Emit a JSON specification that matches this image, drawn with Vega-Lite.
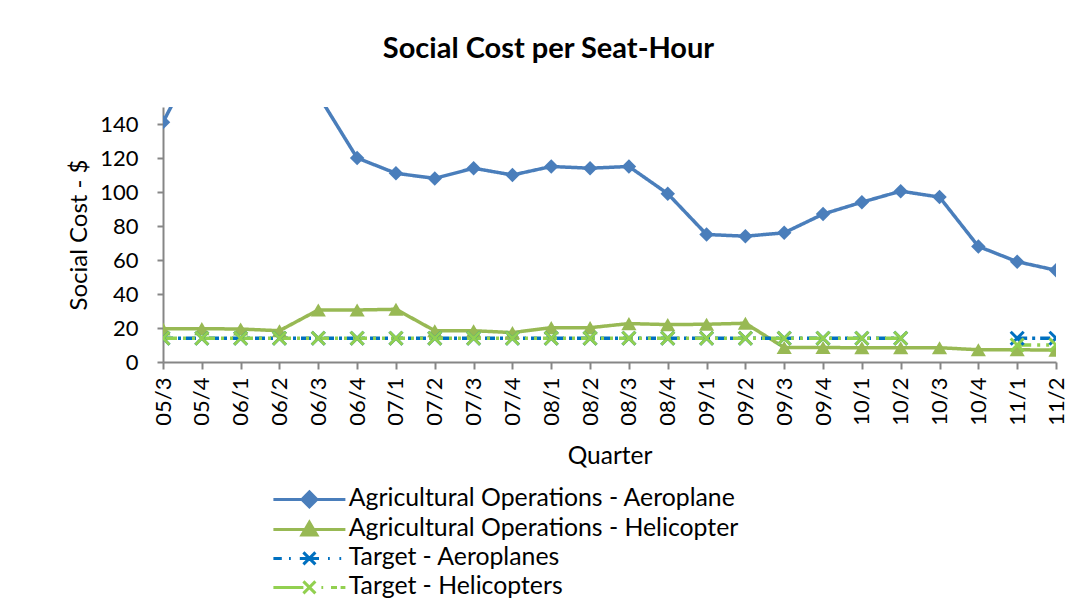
{
  "$schema": "https://vega.github.io/schema/vega-lite/v6.json",
  "width": 893,
  "height": 255,
  "autosize": "none",
  "padding": {"left": 163, "top": 107, "right": 30, "bottom": 246},
  "background": "white",
  "config": {
    "font": "Lato",
    "view": {"stroke": null},
    "axis": {"domainColor": "#868686", "domainWidth": 2, "tickColor": "#868686", "tickWidth": 2, "labelColor": "black", "titleColor": "black", "labelFont": "Lato", "titleFont": "Lato", "labelFontSize": 22, "titleFontSize": 24.5, "titleFontWeight": "normal", "grid": false}
  },
  "title": {"text": "Social Cost per Seat-Hour", "font": "Lato", "fontSize": 29, "fontWeight": "bold", "color": "black", "anchor": "middle", "dx": -61, "offset": 43},
  "data": {"values": [
    {"q":"05/3","s":"aero","v":141},{"q":"05/3","s":"heli","v":19.5},{"q":"05/3","s":"taero","v":14},{"q":"05/3","s":"theli","v":14},
    {"q":"05/4","s":"aero","v":185},{"q":"05/4","s":"heli","v":19.6},{"q":"05/4","s":"taero","v":14},{"q":"05/4","s":"theli","v":14},
    {"q":"06/1","s":"aero","v":200},{"q":"06/1","s":"heli","v":19.4},{"q":"06/1","s":"taero","v":14},{"q":"06/1","s":"theli","v":14},
    {"q":"06/2","s":"aero","v":190},{"q":"06/2","s":"heli","v":18.4},{"q":"06/2","s":"taero","v":14},{"q":"06/2","s":"theli","v":14},
    {"q":"06/3","s":"aero","v":157},{"q":"06/3","s":"heli","v":30.6},{"q":"06/3","s":"taero","v":14},{"q":"06/3","s":"theli","v":14},
    {"q":"06/4","s":"aero","v":120},{"q":"06/4","s":"heli","v":30.6},{"q":"06/4","s":"taero","v":14},{"q":"06/4","s":"theli","v":14},
    {"q":"07/1","s":"aero","v":111},{"q":"07/1","s":"heli","v":31},{"q":"07/1","s":"taero","v":14},{"q":"07/1","s":"theli","v":14},
    {"q":"07/2","s":"aero","v":108},{"q":"07/2","s":"heli","v":18.4},{"q":"07/2","s":"taero","v":14},{"q":"07/2","s":"theli","v":14},
    {"q":"07/3","s":"aero","v":114},{"q":"07/3","s":"heli","v":18.4},{"q":"07/3","s":"taero","v":14},{"q":"07/3","s":"theli","v":14},
    {"q":"07/4","s":"aero","v":110},{"q":"07/4","s":"heli","v":17.3},{"q":"07/4","s":"taero","v":14},{"q":"07/4","s":"theli","v":14},
    {"q":"08/1","s":"aero","v":115},{"q":"08/1","s":"heli","v":20.2},{"q":"08/1","s":"taero","v":14},{"q":"08/1","s":"theli","v":14},
    {"q":"08/2","s":"aero","v":114},{"q":"08/2","s":"heli","v":20.2},{"q":"08/2","s":"taero","v":14},{"q":"08/2","s":"theli","v":14},
    {"q":"08/3","s":"aero","v":115},{"q":"08/3","s":"heli","v":22.6},{"q":"08/3","s":"taero","v":14},{"q":"08/3","s":"theli","v":14},
    {"q":"08/4","s":"aero","v":99},{"q":"08/4","s":"heli","v":22},{"q":"08/4","s":"taero","v":14},{"q":"08/4","s":"theli","v":14},
    {"q":"09/1","s":"aero","v":75},{"q":"09/1","s":"heli","v":22.2},{"q":"09/1","s":"taero","v":14},{"q":"09/1","s":"theli","v":14},
    {"q":"09/2","s":"aero","v":74},{"q":"09/2","s":"heli","v":22.8},{"q":"09/2","s":"taero","v":14},{"q":"09/2","s":"theli","v":14},
    {"q":"09/3","s":"aero","v":76},{"q":"09/3","s":"heli","v":8.5},{"q":"09/3","s":"taero","v":14},{"q":"09/3","s":"theli","v":14},
    {"q":"09/4","s":"aero","v":87},{"q":"09/4","s":"heli","v":8.5},{"q":"09/4","s":"taero","v":14},{"q":"09/4","s":"theli","v":14},
    {"q":"10/1","s":"aero","v":94},{"q":"10/1","s":"heli","v":8.4},{"q":"10/1","s":"taero","v":14},{"q":"10/1","s":"theli","v":14},
    {"q":"10/2","s":"aero","v":100.5},{"q":"10/2","s":"heli","v":8.4},{"q":"10/2","s":"taero","v":14},{"q":"10/2","s":"theli","v":14},
    {"q":"10/3","s":"aero","v":97},{"q":"10/3","s":"heli","v":8.4},{"q":"10/3","s":"taero","v":null},{"q":"10/3","s":"theli","v":null},
    {"q":"10/4","s":"aero","v":68},{"q":"10/4","s":"heli","v":7.2},{"q":"10/4","s":"taero","v":null},{"q":"10/4","s":"theli","v":null},
    {"q":"11/1","s":"aero","v":59},{"q":"11/1","s":"heli","v":7.2},{"q":"11/1","s":"taero","v":14},{"q":"11/1","s":"theli","v":10},
    {"q":"11/2","s":"aero","v":54},{"q":"11/2","s":"heli","v":7},{"q":"11/2","s":"taero","v":14},{"q":"11/2","s":"theli","v":10}
  ]},
  "encoding": {
    "x": {"field": "q", "type": "ordinal", "sort": null, "scale": {"type": "point", "padding": 0},
      "axis": {"title": "Quarter", "labelAngle": 270, "labelPadding": 8, "tickSize": 7, "titlePadding": 19}},
    "y": {"field": "v", "type": "quantitative", "scale": {"domain": [0, 150], "nice": false},
      "axis": {"title": "Social Cost - $", "titleFontSize": 24, "values": [0,20,40,60,80,100,120,140], "tickSize": 6, "labelPadding": 19, "titlePadding": 8}}
  },
  "layer": [
    {
      "mark": {"type": "line", "clip": true, "strokeWidth": 3.5},
      "encoding": {
        "stroke": {"field": "s", "type": "nominal", "legend": null,
          "scale": {"range": ["#4A7EBB","#98B954","#0070C0","#92D050"]}},
        "strokeDash": {"field": "s", "type": "nominal", "legend": null,
          "scale": {"range": [[1,0],[1,0],[10,5,3,5],[14,6,3,6,3,6]]}},
        "strokeWidth": {"field": "s", "type": "nominal", "legend": null,
          "scale": {"range": [3.5,3.5,3,3]}}
      }
    },
    {
      "transform": [{"filter": "datum.s == 'aero'"}],
      "mark": {"type": "point", "clip": true, "shape": "diamond", "filled": true, "opacity": 1, "size": 210, "color": "#4A7EBB"}
    },
    {
      "transform": [{"filter": "datum.s == 'heli'"}],
      "mark": {"type": "point", "clip": true, "shape": "triangle-up", "filled": true, "opacity": 1, "size": 230, "color": "#98B954"}
    },
    {
      "transform": [{"filter": "datum.s == 'taero'"}],
      "mark": {"type": "point", "clip": true, "shape": "M-1,-1L1,1M-1,1L1,-1", "filled": false, "opacity": 1, "size": 169, "strokeWidth": 3, "color": "#0070C0"}
    },
    {
      "transform": [{"filter": "datum.s == 'theli'"}],
      "mark": {"type": "point", "clip": true, "shape": "M-1,-1L1,1M-1,1L1,-1", "filled": false, "opacity": 1, "size": 169, "strokeWidth": 3, "color": "#92D050"}
    },
    {
      "transform": [{"filter": "datum.q == '11/2'"}],
      "mark": {"type": "point", "filled": true, "opacity": 0, "size": 144, "strokeWidth": 3},
      "encoding": {
        "color": {"field": "s", "type": "nominal",
          "scale": {"domain": ["aero","heli","taero","theli"], "range": ["#4A7EBB","#98B954","#0070C0","#92D050"]},
          "legend": {"title": null, "orient": "none", "legendX": 134, "legendY": 380, "labelFont": "Lato", "labelFontSize": 24.8, "labelColor": "black", "labelLimit": 0, "labelOffset": 27, "rowPadding": 3, "symbolSize": 144, "symbolStrokeWidth": 3, "symbolOpacity": 1,
            "labelExpr": "datum.value == 'aero' ? 'Agricultural Operations - Aeroplane' : datum.value == 'heli' ? 'Agricultural Operations - Helicopter' : datum.value == 'taero' ? 'Target - Aeroplanes' : 'Target - Helicopters'",
            "encode": {"symbols": {"update": {"stroke": {"scale": "color", "field": "value"}, "opacity": {"value": 1}}}}}},
        "shape": {"field": "s", "type": "nominal",
          "scale": {"domain": ["aero","heli","taero","theli"], "range": [
            "M-6,0L6,0M0,-1.25L1.25,0L0,1.25L-1.25,0Z",
            "M-6,0L6,0M0,-1.2L1.25,0.95L-1.25,0.95Z",
            "M-6,0L-4.6,0M-3.4,0L-3.1,0M-1.6,0L1.6,0M-1,-1L1,1M-1,1L1,-1M3.1,0L3.4,0M5,0L5.3,0",
            "M-6,0L-1,0M-1,-1L1,1M-1,1L1,-1M2,0L2.3,0M3.6,0L4.6,0M5.2,0L6,0"]}}
      }
    }
  ]
}
